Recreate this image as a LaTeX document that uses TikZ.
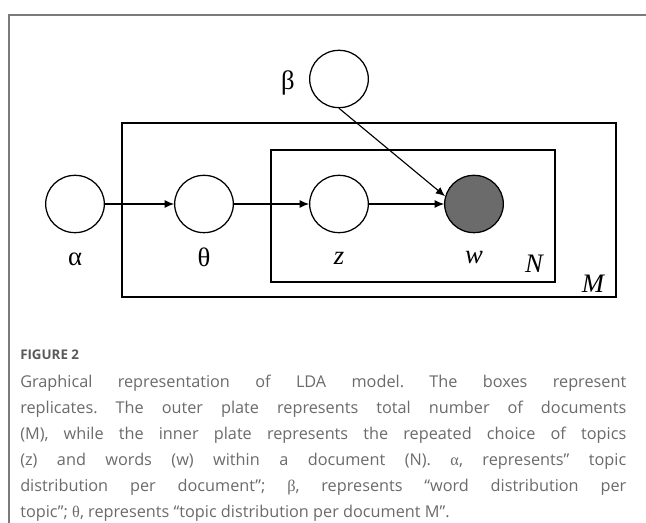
\documentclass[tikz,border=0pt]{standalone}
\usepackage{fontspec}
\setmainfont{Liberation Serif}
\newfontfamily\capfont{Open Sans}
\usetikzlibrary{arrows.meta,shapes.geometric}
\definecolor{framegray}{HTML}{7A7A7A}
\definecolor{captext}{HTML}{6B6B6B}
\definecolor{caphead}{HTML}{5A5A5A}
\definecolor{obsfill}{HTML}{6B6B6B}
\begin{document}
\begin{tikzpicture}[x=0.75pt,y=-0.75pt,
  var/.style={ellipse, draw, line width=0.95pt, minimum width=44pt, minimum height=43pt, inner sep=0pt},
  obs/.style={var, fill=obsfill},
  plate/.style={draw, line width=1.4pt},
  edge/.style={line width=0.85pt, -{Latex[length=7pt,width=6pt]}},
  lbl/.style={font=\fontsize{20}{23}\selectfont, inner sep=0pt},
  figframe/.style={draw=framegray, line width=1pt},
]
\useasboundingbox[fill=white] (0,0) rectangle (646,523);

% outer border of the figure panel
\draw[figframe] (9,523) -- (9,15) -- (646,15);

% plates: documents (M) and words (N)
\draw[plate] (122,123) rectangle (616,297);
\draw[plate] (271,150) rectangle (555,282);

% random variables
\node[var] (alpha) at (75,204) {};
\node[var] (theta) at (204,204) {};
\node[var] (z)     at (339,204) {};
\node[obs] (w)     at (474,204) {};
\node[var] (beta)  at (339,79)  {};

% variable labels
\node[lbl] (lalpha) at (75,259)  {α};
\node[lbl] (ltheta) at (204,257) {θ};
\node[lbl] (lz)     at (339,258) {\itshape z};
\node[lbl] (lw)     at (474,258) {\itshape w};
\node[lbl] (lN)     at (534,264) {\itshape N};
\node[lbl] (lM)     at (593,284) {\itshape M};
\node[lbl] (lbeta)  at (288,83)  {β};

% dependencies
\draw[edge] (alpha) -- (theta);
\draw[edge] (theta) -- (z);
\draw[edge] (z) -- (w);
\draw[edge] (beta.south) -- (w.165);

% caption
\node[anchor=north west, text width=454.5pt, align=justify, inner sep=0pt,
      font=\capfont\frenchspacing\fontsize{12.2}{19.5}\selectfont, text=captext] (caption) at (20,349.5)
{{\color{caphead}\fontsize{10}{19.5}\selectfont\bfseries FIGURE 2}\\[1.6pt]
Graphical representation of LDA model. The boxes represent\linebreak
replicates. The outer plate represents total number of documents\linebreak
(M), while the inner plate represents the repeated choice of topics\linebreak
(z) and words (w) within a document (N). {\fontspec{Liberation Serif}α}, represents” topic\linebreak
distribution per document”; {\fontspec{Liberation Serif}β}, represents “word distribution per\linebreak
topic”; {\fontspec{Liberation Serif}θ}, represents “topic distribution per document M”.};
\end{tikzpicture}
\end{document}
